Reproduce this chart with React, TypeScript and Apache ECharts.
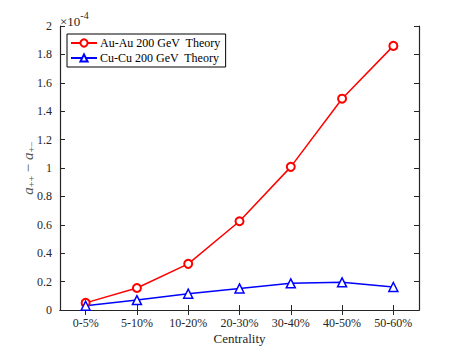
import React, { useEffect, useRef } from "react";
import * as echarts from "echarts";

const categories = ["0-5%", "5-10%", "10-20%", "20-30%", "30-40%", "40-50%", "50-60%"];
const auAu = [0.05, 0.155, 0.325, 0.625, 1.008, 1.488, 1.86];
const cuCu = [0.03, 0.07, 0.115, 0.152, 0.188, 0.195, 0.162];
const seriesNames = ["Au-Au 200 GeV  Theory", "Cu-Cu 200 GeV  Theory"];

const FONT = "'Liberation Serif', 'DejaVu Serif', serif";
const AX = "#262626";

export default function App() {
  const ref = useRef<HTMLDivElement>(null);
  useEffect(() => {
    if (!ref.current) return;
    const chart = echarts.init(ref.current, null, { renderer: "svg" });
    const yAxisBase = {
      type: "value",
      min: 0,
      max: 2,
      interval: 0.2,
      splitLine: { show: false },
      axisLine: { show: true, lineStyle: { color: AX, width: 1.2 } },
      axisTick: { show: true, inside: true, length: 5, lineStyle: { color: AX } },
    };
    chart.setOption({
      animation: false,
      backgroundColor: "#fff",
      textStyle: { fontFamily: FONT },
      grid: { left: 60, top: 26, right: 44, bottom: 38, containLabel: false, outerBoundsMode: "none" },
      legend: {
        orient: "vertical",
        left: 67,
        top: 34,
        backgroundColor: "#fff",
        borderColor: "#000",
        borderWidth: 1,
        borderRadius: 0,
        padding: [3, 5, 3, 3],
        itemWidth: 26,
        itemHeight: 9,
        itemGap: 3,
        textStyle: { fontFamily: FONT, fontSize: 12, color: "#000", padding: [0, 0, 0, -2] },
        data: seriesNames,
      },
      graphic: [
        {
          type: "text",
          left: 60,
          top: 10,
          style: {
            text: "{a|×10}{b|-4}",
            rich: {
              a: { fontFamily: FONT, fontSize: 13, fill: AX, verticalAlign: "bottom", padding: [5, 0, 0, 0] },
              b: { fontFamily: FONT, fontSize: 10, fill: AX, verticalAlign: "top", padding: [0, 0, 6, 0] },
            },
          },
        },
      ],
      xAxis: [
        {
          type: "category",
          data: categories,
          boundaryGap: true,
          name: "Centrality",
          nameLocation: "middle",
          nameGap: 22,
          nameMoveOverlap: false,
          nameTextStyle: { fontFamily: FONT, fontSize: 13, color: AX },
          axisLine: { show: true, lineStyle: { color: AX, width: 1.2 } },
          axisTick: { show: true, inside: true, length: 5, alignWithLabel: true, lineStyle: { color: AX } },
          axisLabel: { fontFamily: FONT, fontSize: 12, color: AX, margin: 7 },
        },
        {
          type: "category",
          data: categories,
          position: "top",
          boundaryGap: true,
          axisLine: { show: true, lineStyle: { color: AX, width: 1.2 } },
          axisTick: { show: true, inside: true, length: 5, alignWithLabel: true, lineStyle: { color: AX } },
          axisLabel: { show: false },
        },
      ],
      yAxis: [
        {
          ...yAxisBase,
          position: "left",
          name: "{i|a}{s|++}{m| − }{i|a}{s|+−}",
          nameLocation: "middle",
          nameGap: 24,
          nameRotate: 90,
          nameMoveOverlap: false,
          nameTextStyle: {
            rich: {
              i: { fontFamily: FONT, fontSize: 15, fontStyle: "italic", color: "#555" },
              m: { fontFamily: FONT, fontSize: 15, color: "#555" },
              s: { fontFamily: FONT, fontSize: 10, color: "#555", padding: [6, 0, 0, 0] },
            },
          },
          axisLabel: { fontFamily: FONT, fontSize: 12, color: AX, margin: 8 },
        },
        {
          ...yAxisBase,
          position: "right",
          axisLabel: { show: false },
        },
      ],
      series: [
        {
          name: seriesNames[0],
          type: "line",
          data: auAu,
          color: "#ff0000",
          lineStyle: { width: 1.5, color: "#ff0000" },
          symbol: "emptyCircle",
          symbolSize: 8,
          itemStyle: { color: "#ff0000", borderColor: "#ff0000", borderWidth: 1.5 },
        },
        {
          name: seriesNames[1],
          type: "line",
          data: cuCu,
          color: "#0000ff",
          lineStyle: { width: 1.5, color: "#0000ff" },
          symbol: "triangle",
          symbolSize: 9,
          itemStyle: { color: "#fff", borderColor: "#0000ff", borderWidth: 1.5 },
        },
      ],
    });
    return () => chart.dispose();
  }, []);
  return <div ref={ref} style={{ width: 463, height: 348, position: "absolute", left: 0, top: 0 }} />;
}
